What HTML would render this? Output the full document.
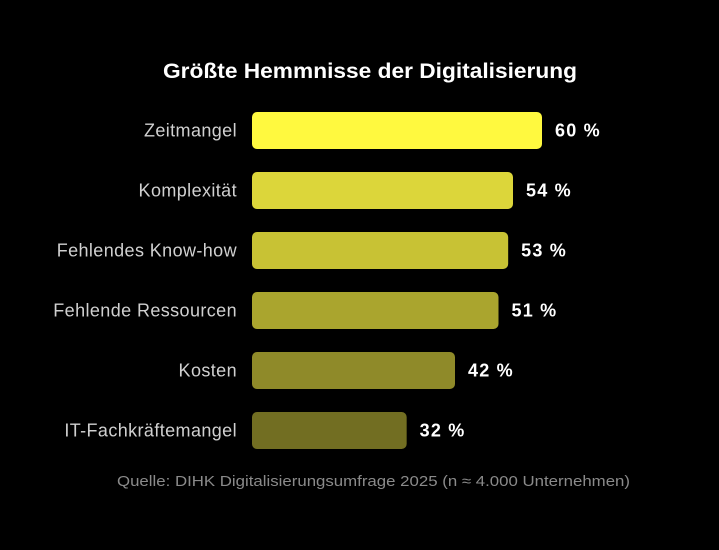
<!DOCTYPE html>
<html><head><meta charset="utf-8"><style>
html,body{margin:0;padding:0;background:#000;}
body{width:719px;height:545px;overflow:hidden;font-family:"Liberation Sans",sans-serif;}
</style></head><body>
<svg id="chart" width="719" height="545">
<text x="163" y="78" textLength="414" lengthAdjust="spacingAndGlyphs" fill="#fff" font-size="21" font-weight="bold">Größte Hemmnisse der Digitalisierung</text>
<text x="117" y="486" textLength="513" lengthAdjust="spacingAndGlyphs" fill="#8a8a8a" font-size="15">Quelle: DIHK Digitalisierungsumfrage 2025 (n ≈ 4.000 Unternehmen)</text>
</svg>
<script>
const categories=["Zeitmangel","Komplexität","Fehlendes Know-how","Fehlende Ressourcen","Kosten","IT-Fachkräftemangel"];
const values=[60,54,53,51,42,32];
const valueLabels=["60 %","54 %","53 %","51 %","42 %","32 %"];
const colors=["#fff93f","#dcd63a","#c8c234","#aaa52e","#8f8a29","#726e22"];
const svg=document.getElementById('chart');
const NS='http://www.w3.org/2000/svg';
const x0=252, scale=290/60;
const xPos=v=>x0+v*scale;
const yPos=i=>112+i*60;
const bh=37;
categories.forEach((c,i)=>{
  const r=document.createElementNS(NS,'rect');
  r.setAttribute('x',x0);r.setAttribute('y',yPos(i));
  r.setAttribute('width',xPos(values[i])-x0);r.setAttribute('height',bh);
  r.setAttribute('rx',5);r.setAttribute('fill',colors[i]);
  
  
  svg.appendChild(r);
  const l=document.createElementNS(NS,'text');
  l.setAttribute('x',237);l.setAttribute('y',yPos(i)+bh/2+6);
  l.setAttribute('text-anchor','end');l.setAttribute('fill','#d0d0d0');l.setAttribute('font-size','18');
  l.setAttribute('letter-spacing','0.4');
  l.textContent=c;
  
  
  svg.appendChild(l);
  const v=document.createElementNS(NS,'text');
  v.setAttribute('x',xPos(values[i])+13);v.setAttribute('y',yPos(i)+bh/2+6);
  v.setAttribute('fill','#fff');v.setAttribute('font-size','18');v.setAttribute('font-weight','bold');
  v.setAttribute('letter-spacing','1.2');
  v.textContent=valueLabels[i];
  
  
  svg.appendChild(v);
});
</script>
</body></html>
